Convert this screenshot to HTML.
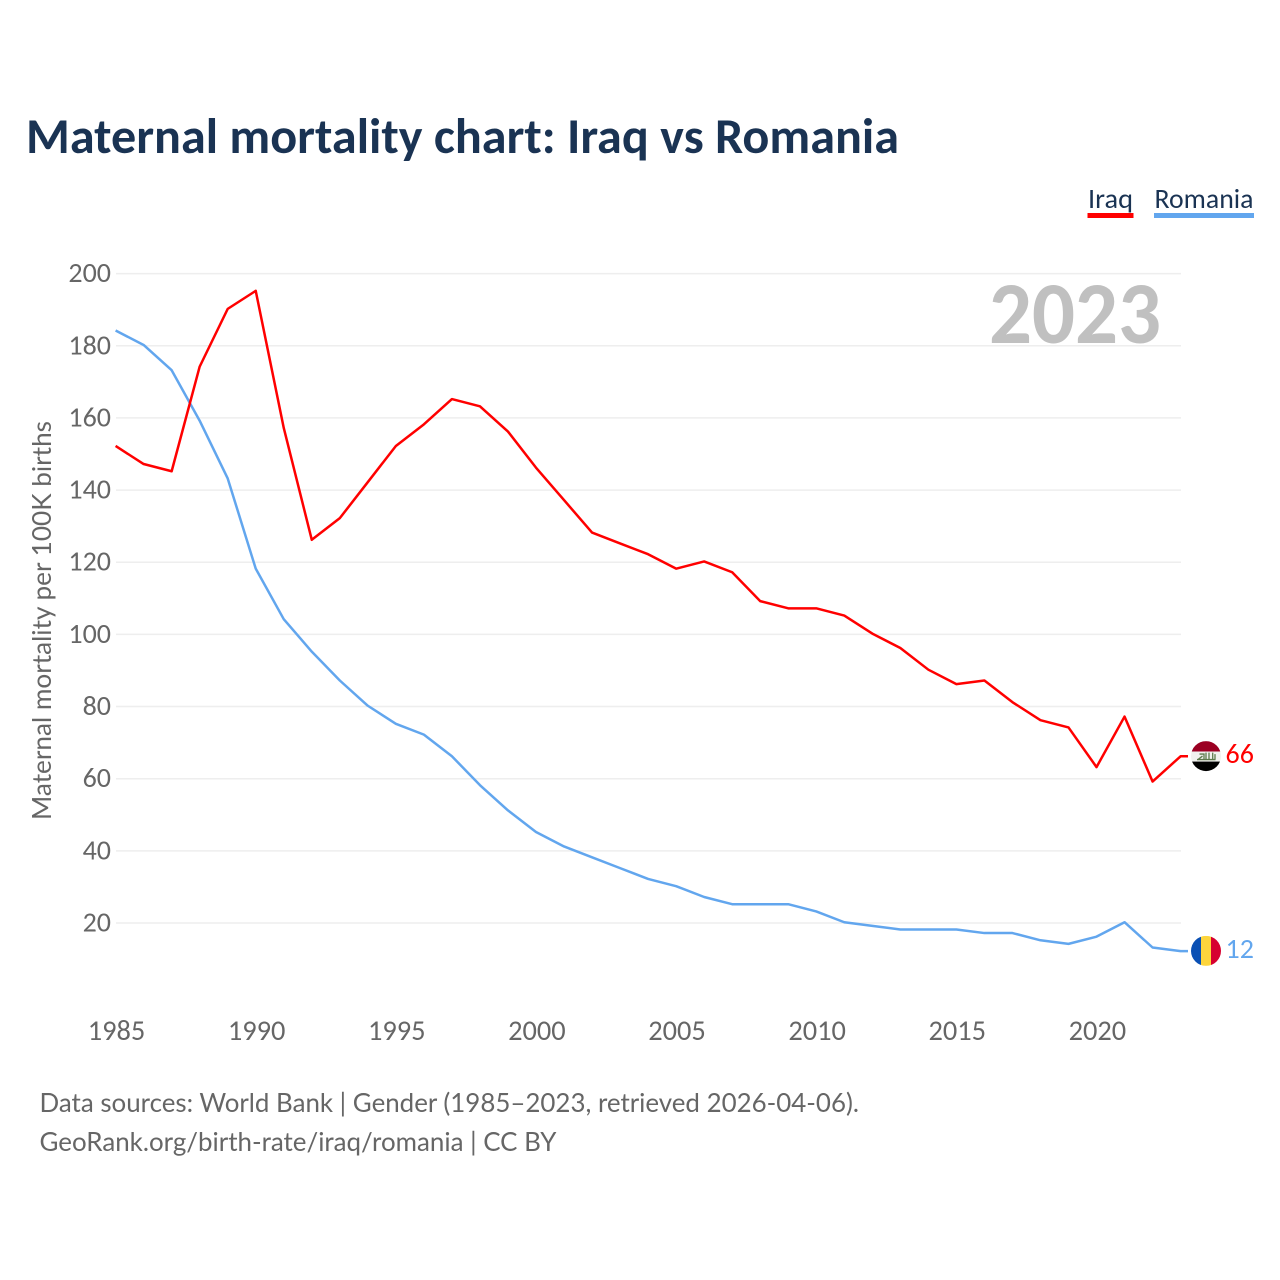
<!DOCTYPE html>
<html lang="en">
<head>
<meta charset="utf-8">
<title>Maternal mortality chart: Iraq vs Romania</title>
<style>
  html, body { margin: 0; padding: 0; background: #fff; }
  svg { display: block; }
  text { font-family: "Carlito", "Lato", "Liberation Sans", sans-serif; }
  text.lato { font-family: "Lato", "Carlito", "Liberation Sans", sans-serif; }
</style>
</head>
<body>
<svg id="chart" xmlns="http://www.w3.org/2000/svg" width="1280" height="1280" viewBox="0 0 1280 1280">
  <rect x="0" y="0" width="1280" height="1280" fill="#ffffff"/>
  <text x="26" y="153" font-size="50" font-weight="700" fill="#1a3353" textLength="873" lengthAdjust="spacingAndGlyphs">Maternal mortality chart: Iraq vs Romania</text>

  <g>
    <g>
      <text x="1088" y="208" font-size="28" fill="#1a3353" textLength="45" lengthAdjust="spacingAndGlyphs">Iraq</text>
      <rect x="1087.5" y="213" width="46" height="5" fill="#ff0000"/>
    </g>
    <g>
      <text x="1154.5" y="208" font-size="28" fill="#1a3353" textLength="99" lengthAdjust="spacingAndGlyphs">Romania</text>
      <rect x="1154" y="213" width="100" height="5" fill="#62a6ee"/>
    </g>
  </g>

  <g id="grid"></g>
  <text id="yearLabel" x="989" y="343" font-size="88" font-weight="700" fill="#c0c0c0" textLength="172" lengthAdjust="spacingAndGlyphs">2023</text>
  <g id="yTicks"></g>
  <g id="xTicks"></g>
  <text class="lato" transform="translate(51 820) rotate(-90)" x="0" y="0" font-size="26.5" fill="#666666" textLength="399" lengthAdjust="spacingAndGlyphs">Maternal mortality per 100K births</text>

  <polyline id="lineRomania" fill="none" stroke="#62a6ee" stroke-width="2.5" stroke-linejoin="round"/>
  <polyline id="lineIraq" fill="none" stroke="#ff0000" stroke-width="2.5" stroke-linejoin="round"/>

  <defs>
    <clipPath id="flagClip"><circle cx="0" cy="0" r="15"/></clipPath>
  </defs>

  <g id="flagIraq">
    <g clip-path="url(#flagClip)">
      <rect x="-15" y="-15" width="30" height="10.5" fill="#9b0022"/>
      <rect x="-15" y="-4.5" width="30" height="10" fill="#f1f1ee"/>
      <rect x="-15" y="5.5" width="30" height="10" fill="#000000"/>
      <path d="M-9 3.5H9.5M-8 3.5L-3.5 0M-6.5-2H-2V3.5M0-3.5V3.5M3-3.5V3.5M6.7-3.5V3.5M9-2V3.5" stroke="#5d7a4b" stroke-width="1.3" fill="none"/>
    </g>
  </g>
  <g id="flagRomania">
    <g clip-path="url(#flagClip)">
      <rect x="-15" y="-15" width="10" height="30" fill="#0a50b4"/>
      <rect x="-5" y="-15" width="10" height="30" fill="#fdd53c"/>
      <rect x="5" y="-15" width="10" height="30" fill="#d60030"/>
    </g>
  </g>

  <text id="valueIraq" font-size="28" fill="#ff0000"></text>
  <text id="valueRomania" font-size="28" fill="#62a6ee"></text>

  <text class="lato" x="39.5" y="1112" font-size="26.5" fill="#666666" textLength="819.5" lengthAdjust="spacingAndGlyphs">Data sources: World Bank | Gender (1985–2023, retrieved 2026-04-06).</text>
  <text class="lato" x="39.5" y="1151" font-size="26.5" fill="#666666" textLength="517" lengthAdjust="spacingAndGlyphs">GeoRank.org/birth-rate/iraq/romania | CC BY</text>
</svg>

<script>
const years = [1985,1986,1987,1988,1989,1990,1991,1992,1993,1994,1995,1996,1997,1998,1999,2000,2001,2002,2003,2004,2005,2006,2007,2008,2009,2010,2011,2012,2013,2014,2015,2016,2017,2018,2019,2020,2021,2022,2023];
const iraqValues = [152,147,145,174,190,195,157,126,132,142,152,158,165,163,156,146,137,128,125,122,118,120,117,109,107,107,105,100,96,90,86,87,81,76,74,63,77,59,66];
const romaniaValues = [184,180,173,159,143,118,104,95,87,80,75,72,66,58,51,45,41,38,35,32,30,27,25,25,25,23,20,19,18,18,18,17,17,15,14,16,20,13,12];
const yTickValues = [20,40,60,80,100,120,140,160,180,200];
const xTickValues = [1985,1990,1995,2000,2005,2010,2015,2020];

const NS = 'http://www.w3.org/2000/svg';
const plotLeft = 116;
const plotRight = 1181;

function xScale(year) {
  return plotLeft + (year - 1985) * (plotRight - plotLeft) / (2023 - 1985);
}
function yScale(value) {
  return 995.2 - value * 3.608;
}
function points(values) {
  const pts = values.map(function (v, i) {
    return (xScale(years[i]) - 0.4).toFixed(2) + ',' + (yScale(v) - 0.8).toFixed(2);
  });
  const last = values[values.length - 1];
  pts.push('1188,' + (yScale(last) - 0.8).toFixed(2));
  return pts.join(' ');
}

const grid = document.getElementById('grid');
const yTicks = document.getElementById('yTicks');
yTickValues.forEach(function (v) {
  const line = document.createElementNS(NS, 'line');
  
  
  line.setAttribute('x1', plotLeft);
  line.setAttribute('x2', plotRight);
  line.setAttribute('y1', yScale(v));
  line.setAttribute('y2', yScale(v));
  line.setAttribute('stroke', '#eeeeee');
  line.setAttribute('stroke-width', '1.5');
  grid.appendChild(line);

  const label = document.createElementNS(NS, 'text');
  
  
  label.setAttribute('x', 111);
  label.setAttribute('y', yScale(v) + 8.5);
  label.setAttribute('text-anchor', 'end');
  label.setAttribute('font-size', '28');
  label.setAttribute('fill', '#666666');
  label.textContent = v;
  yTicks.appendChild(label);
});

const xTicks = document.getElementById('xTicks');
xTickValues.forEach(function (yr) {
  const label = document.createElementNS(NS, 'text');
  
  
  label.setAttribute('x', xScale(yr) + 0.5);
  label.setAttribute('y', 1040);
  label.setAttribute('text-anchor', 'middle');
  label.setAttribute('font-size', '28.4');
  label.setAttribute('fill', '#666666');
  label.textContent = yr;
  xTicks.appendChild(label);
});

document.getElementById('lineIraq').setAttribute('points', points(iraqValues));
document.getElementById('lineRomania').setAttribute('points', points(romaniaValues));

const iraqLast = iraqValues[iraqValues.length - 1];
const romaniaLast = romaniaValues[romaniaValues.length - 1];
document.getElementById('flagIraq').setAttribute('transform', 'translate(1206 ' + (yScale(iraqLast) - 1) + ')');
document.getElementById('flagRomania').setAttribute('transform', 'translate(1206 ' + (yScale(romaniaLast) - 1) + ')');

const valueIraq = document.getElementById('valueIraq');
valueIraq.setAttribute('x', 1225.5);
valueIraq.setAttribute('y', yScale(iraqLast) + 6);
valueIraq.textContent = iraqLast;

const valueRomania = document.getElementById('valueRomania');
valueRomania.setAttribute('x', 1225.5);
valueRomania.setAttribute('y', yScale(romaniaLast) + 6);
valueRomania.textContent = romaniaLast;
</script>
</body>
</html>
